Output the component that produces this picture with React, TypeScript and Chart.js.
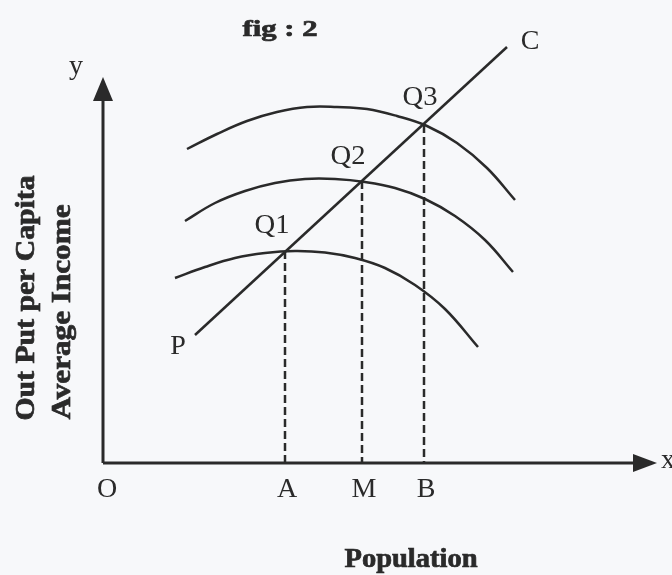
import { useEffect, useRef } from "react";
import { Chart, registerables } from "chart.js";

Chart.register(...registerables);

// Equilibrium points on the path P–C and their population feet
const pointNames = ["Q1", "Q2", "Q3"];
const footNames = ["A", "M", "B"];
const qX = [18.2, 25.9, 32.1];
const qY = [21.2, 28.2, 33.8];

// Three per-capita output curves (low, middle, high)
const lowX = [7.2, 10.2, 13.2, 16.2, 19.2, 22.2, 25.2, 28.2, 31.2, 34.2, 37.5];
const lowY = [18.5, 19.6, 20.5, 21.0, 21.2, 21.05, 20.5, 19.5, 17.8, 15.4, 11.6];
const midX = [8.2, 11.2, 14.2, 17.2, 20.2, 23.2, 26.2, 29.2, 32.2, 35.2, 38.2, 41.0];
const midY = [24.2, 26.0, 27.2, 28.0, 28.4, 28.4, 28.1, 27.5, 26.4, 24.7, 22.3, 19.1];
const topX = [8.4, 11.4, 14.4, 17.4, 20.4, 23.4, 26.4, 29.4, 32.4, 35.4, 38.4, 41.2];
const topY = [31.4, 32.9, 34.2, 35.1, 35.6, 35.6, 35.4, 34.7, 33.7, 32.0, 29.5, 26.3];

// Growth path P -> C
const pathX = [9.2, 40.4];
const pathY = [12.8, 41.6];

// Axis extents
const axisXEnd = 55.4;
const axisYEnd = 38.6;

const INK = "#2a2a2a";
const PAPER = "#f7f8fa";
const SERIF = '"Liberation Serif", "Times New Roman", Times, serif';

const zip = (xs: number[], ys: number[]) => xs.map((x, i) => ({ x, y: ys[i] }));

function drawText(
  ctx: CanvasRenderingContext2D,
  text: string,
  x: number,
  y: number,
  font: string,
  opts: { width?: number; rotate?: number; heavy?: boolean } = {}
) {
  ctx.save();
  ctx.font = font;
  ctx.fillStyle = INK;
  ctx.strokeStyle = INK;
  ctx.textAlign = "center";
  ctx.textBaseline = "middle";
  ctx.translate(x, y);
  if (opts.rotate) ctx.rotate(opts.rotate);
  if (opts.width) {
    const w = ctx.measureText(text).width;
    ctx.scale(opts.width / w, 1);
  }
  ctx.fillText(text, 0, 0);
  if (opts.heavy) {
    ctx.lineWidth = 0.7;
    ctx.strokeText(text, 0, 0);
  }
  ctx.restore();
}

const diagramPlugin = {
  id: "diagram",
  beforeDraw(chart: any) {
    const ctx = chart.ctx as CanvasRenderingContext2D;
    ctx.save();
    ctx.fillStyle = PAPER;
    ctx.fillRect(0, 0, chart.width, chart.height);
    ctx.restore();
  },
  afterDraw(chart: any) {
    const ctx = chart.ctx as CanvasRenderingContext2D;
    const xs = chart.scales.x;
    const ys = chart.scales.y;
    const px = (v: number) => xs.getPixelForValue(v);
    const py = (v: number) => ys.getPixelForValue(v);

    const ox = px(0);
    const oy = py(0);

    // Arrowheads
    ctx.save();
    ctx.fillStyle = INK;
    const yTip = py(axisYEnd);
    ctx.beginPath();
    ctx.moveTo(ox, yTip);
    ctx.lineTo(ox - 10, yTip + 24);
    ctx.lineTo(ox + 10, yTip + 24);
    ctx.closePath();
    ctx.fill();
    const xTip = px(axisXEnd);
    ctx.beginPath();
    ctx.moveTo(xTip, oy);
    ctx.lineTo(xTip - 24, oy - 9);
    ctx.lineTo(xTip - 24, oy + 9);
    ctx.closePath();
    ctx.fill();
    ctx.restore();

    const letter = `28px ${SERIF}`;
    const bold = (s: number) => `bold ${s}px ${SERIF}`;

    drawText(ctx, "y", ox - 27, yTip - 10, letter);
    drawText(ctx, "x", xTip + 11, oy - 2, letter);
    drawText(ctx, "O", ox + 4, oy + 27, letter);

    qX.forEach((x, i) => {
      drawText(ctx, footNames[i], px(x) + 2, oy + 27, letter);
    });
    const qOff = [
      [-13, -25],
      [-14, -24],
      [-4, -27],
    ];
    qX.forEach((x, i) => {
      drawText(ctx, pointNames[i], px(x) + qOff[i][0], py(qY[i]) + qOff[i][1], letter, { width: 35 });
    });

    drawText(ctx, "P", px(pathX[0]) - 17, py(pathY[0]) + 12, letter);
    drawText(ctx, "C", px(pathX[1]) + 23, py(pathY[1]) - 5, letter);

    drawText(ctx, "fig : 2", 280, 30, bold(24), { width: 75, heavy: true });
    drawText(ctx, "Population", 411, 560, bold(27), { width: 133, heavy: true });

    drawText(ctx, "Out Put per Capita", 27, 298, bold(27), { width: 245, rotate: -Math.PI / 2, heavy: true });
    drawText(ctx, "Average Income", 63, 312, bold(27), { width: 215, rotate: -Math.PI / 2, heavy: true });
  },
};

export default function App() {
  const ref = useRef<HTMLCanvasElement | null>(null);

  useEffect(() => {
    if (!ref.current) return;

    const curve = (data: { x: number; y: number }[]) => ({
      data,
      showLine: true,
      borderColor: INK,
      borderWidth: 2.5,
      pointRadius: 0,
      tension: 0.4,
      fill: false,
      clip: false as any,
    });

    const straight = (data: { x: number; y: number }[], width: number, dash: number[] = []) => ({
      data,
      showLine: true,
      borderColor: INK,
      borderWidth: width,
      borderDash: dash,
      pointRadius: 0,
      tension: 0,
      fill: false,
      clip: false as any,
    });

    const datasets: any[] = [
      straight([{ x: 0, y: 0 }, { x: axisXEnd - 1, y: 0 }], 3),
      straight([{ x: 0, y: 0 }, { x: 0, y: axisYEnd - 1 }], 3),
      curve(zip(lowX, lowY)),
      curve(zip(midX, midY)),
      curve(zip(topX, topY)),
      straight(zip(pathX, pathY), 2.5),
      ...qX.map((x, i) => straight([{ x, y: qY[i] }, { x, y: 0 }], 2.5, [8, 4])),
    ];

    const chart = new Chart(ref.current, {
      type: "scatter",
      data: { datasets },
      options: {
        animation: false,
        responsive: false,
        devicePixelRatio: 1,
        events: [],
        layout: { autoPadding: false, padding: { left: 103, top: 10, right: 2, bottom: 112 } },
        plugins: { legend: { display: false }, tooltip: { enabled: false } },
        scales: {
          x: { type: "linear", min: 0, max: 56.7, display: false },
          y: { type: "linear", min: 0, max: 45.3, display: false },
        },
      },
      plugins: [diagramPlugin],
    });

    return () => chart.destroy();
  }, []);

  return (
    <div style={{ position: "fixed", left: 0, top: 0, width: 672, height: 575, background: PAPER }}>
      <canvas ref={ref} width={672} height={575} />
    </div>
  );
}
